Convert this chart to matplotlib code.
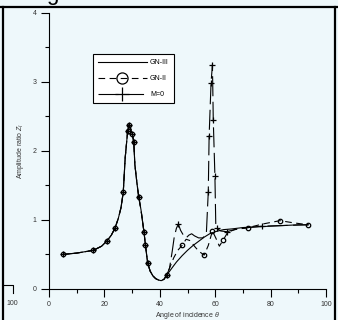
import matplotlib
matplotlib.use('Agg')
import matplotlib.pyplot as plt
from matplotlib.lines import Line2D

plt.rcParams['font.family'] = ['Liberation Sans', 'DejaVu Sans']
plt.rcParams['mathtext.fontset'] = 'custom'
plt.rcParams['mathtext.it'] = 'Liberation Sans:italic'
plt.rcParams['mathtext.rm'] = 'Liberation Sans'

# shared branch (all three models coincide below ~43 deg)
theta_base = [5, 10, 16, 19, 21, 22.5, 23.8, 25, 26, 26.8, 27.5, 28.4, 28.9, 29.5,
              30.1, 30.6, 31.0, 31.7, 32.4, 33.2, 34.3, 34.8, 35.6, 36.5, 37.5,
              38.5, 39.5, 40.5, 41.5, 42.5]
z_base = [0.50, 0.52, 0.56, 0.62, 0.70, 0.78, 0.88, 1.02, 1.18, 1.40, 1.90, 2.29, 2.38, 2.32,
          2.24, 2.13, 1.80, 1.55, 1.33, 1.15, 0.82, 0.64, 0.38, 0.26, 0.19,
          0.15, 0.13, 0.12, 0.14, 0.20]

# GN-III tail
theta_gn3 = [44.5, 46, 48, 50, 52, 54, 56, 58, 60, 63, 66, 70, 75, 80, 85, 90, 93.6]
z_gn3 = [0.31, 0.39, 0.48, 0.56, 0.63, 0.69, 0.75, 0.80, 0.83, 0.86, 0.87, 0.89, 0.90,
         0.91, 0.92, 0.93, 0.93]

# GN-II tail
theta_gn2 = [43.5, 45, 46.5, 48, 49.5, 51, 52.5, 54, 56, 57.5, 59, 60.2, 61.5, 62.9,
             64.5, 67, 72, 77, 83.4, 88, 93.6]
z_gn2 = [0.30, 0.45, 0.56, 0.63, 0.72, 0.70, 0.62, 0.55, 0.49, 0.63, 0.84, 0.74, 0.62, 0.71,
         0.82, 0.86, 0.89, 0.94, 0.99, 0.96, 0.93]

# M=0 tail
theta_m0 = [43.5, 44.5, 45.2, 46, 46.7, 47.5, 48.5, 49.5, 50.5, 51.5, 52.5, 54, 55.5,
            56.8, 57.5, 57.8, 58.5, 59.0, 59.3, 59.9, 60.2, 60.5, 62, 64.2, 67, 72, 77,
            85, 93.6]
z_m0 = [0.30, 0.55, 0.75, 0.88, 0.94, 0.85, 0.78, 0.74, 0.78, 0.80, 0.77, 0.74, 0.74,
        0.80, 1.41, 2.21, 2.99, 3.25, 2.45, 1.63, 0.95, 0.88, 0.84, 0.83, 0.86, 0.89, 0.91,
        0.92, 0.93]

x_ticks = [0, 20, 40, 60, 80, 100]
y_ticks = [0, 1, 2, 3, 4]

bg = '#eef8fb'
fig = plt.figure(figsize=(3.38, 3.2), dpi=100, facecolor=bg)
ax = fig.add_axes([0.145, 0.097, 0.8195, 0.8625])
ax.set_facecolor('none')

th3 = theta_base + theta_gn3
zz3 = z_base + z_gn3
th2 = theta_base + theta_gn2
zz2 = z_base + z_gn2
thm = theta_base + theta_m0
zzm = z_base + z_m0

# marker positions on the shared branch, same for both marked models
shared_marks = [0, 2, 4, 6, 9, 11, 12, 14, 15, 18, 20, 21, 22, 29]

ax.plot(th3, zz3, color='black', lw=0.8, label='GN-III')
ax.plot(th2, zz2, color='black', lw=0.8, dashes=(6, 4), marker='o', ms=3.2,
        mfc='none', mew=0.9, markevery=shared_marks + [33, 38, 40, 43, 46, 48, 50],
        label='GN-II')
ax.plot(thm, zzm, color='black', lw=0.8, dashes=(18, 5), marker='+', ms=4, mew=0.9,
        markevery=shared_marks + [34, 44, 45, 46, 47, 48, 49, 51, 53, 56],
        label='M=0')

ax.set_xlim(0, 100)
ax.set_ylim(0, 4)
ax.set_xticks(x_ticks)
ax.set_yticks(y_ticks)
ax.set_xticks([10, 30, 50, 70, 90], minor=True)
ax.set_yticks([0.5, 1.5, 2.5, 3.5], minor=True)
for s in ['top', 'right']:
    ax.spines[s].set_visible(False)
for s in ['left', 'bottom']:
    ax.spines[s].set_linewidth(0.8)
ax.tick_params(which='major', length=6, width=0.8, labelsize=5, pad=3, labelcolor='#333333')
ax.tick_params(which='minor', length=3, width=0.8)
ax.set_xlabel(r'Angle of incidence $\theta$', fontsize=5, labelpad=1, color='#333333')
ax.set_ylabel(r'Amplitude ratio $Z_I$', fontsize=5, labelpad=5, color='#333333')

leg = ax.legend(loc='upper left', bbox_to_anchor=(0.159, 0.851), borderaxespad=0,
                fontsize=5, handlelength=7, markerscale=2.5, labelspacing=1.3,
                fancybox=False, framealpha=1, facecolor='white', edgecolor='black',
                borderpad=0.7, handletextpad=0.5)
leg.get_frame().set_linewidth(0.8)

# surrounding table frame and neighbour panel fragments
fig.add_artist(Line2D([0, 1], [0.978, 0.978], transform=fig.transFigure, color='black', lw=1.6))
fig.add_artist(Line2D([0.008, 0.008], [0, 0.978], transform=fig.transFigure, color='black', lw=1.6))
fig.add_artist(Line2D([0.99, 0.99], [0, 0.978], transform=fig.transFigure, color='black', lw=1.6))
fig.add_artist(Line2D([0.008, 0.038, 0.038], [0.109, 0.109, 0.085], transform=fig.transFigure,
                      color='black', lw=0.8))
fig.text(0.037, 0.053, '100', fontsize=5, ha='center', va='center', color='#333333')
fig.text(0.155, 1.0, 'g', fontsize=16, ha='center', va='baseline', color='black')

fig.savefig('out.png', dpi=100, facecolor=bg)
